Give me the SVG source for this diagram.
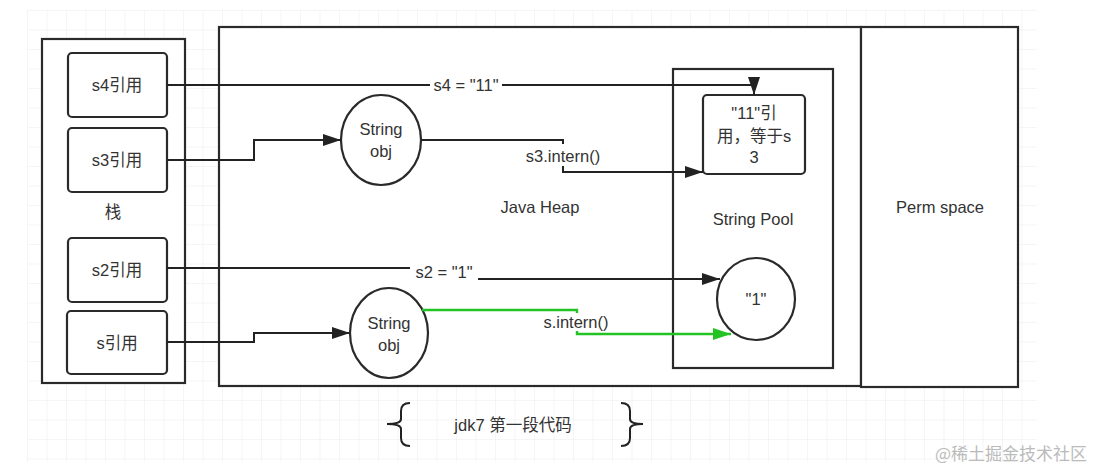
<svg xmlns="http://www.w3.org/2000/svg" width="1097" height="469" viewBox="0 0 1097 469">
<defs>
<pattern id="grid" x="27" y="10" width="19.5" height="19.5" patternUnits="userSpaceOnUse">
<path d="M19.5 0 L0 0 0 19.5" fill="none" stroke="#ececec" stroke-width="1"/>
</pattern>
<marker id="arr" markerWidth="18" markerHeight="12" refX="18" refY="6" orient="auto" markerUnits="userSpaceOnUse">
<path d="M0 0 L18 6 L0 12 Z" fill="#222"/>
</marker>
<marker id="arrg" markerWidth="18" markerHeight="12" refX="18" refY="6" orient="auto" markerUnits="userSpaceOnUse">
<path d="M0 0 L18 6 L0 12 Z" fill="#22c322"/>
</marker>
</defs>
<style>
.box{fill:#fff;stroke:#2a2a2a;stroke-width:2.2}
.node{fill:#fff;stroke:#2a2a2a;stroke-width:2.2}
.t{font-family:"Liberation Sans","Noto Sans CJK SC",sans-serif;font-size:16.5px;fill:#333;text-anchor:middle}
.ln{fill:none;stroke:#222;stroke-width:2}
.g{fill:none;stroke:#22c322;stroke-width:2.4}
.lbl{fill:#fff}
</style>
<rect x="0" y="0" width="1097" height="469" fill="#fff"/>
<rect x="27" y="10" width="1010" height="452" fill="url(#grid)"/>

<g id="stack">
<rect class="box" x="42" y="39" width="143" height="344"/>
<text class="t" x="113" y="218">栈</text>
</g>
<g id="heap">
<rect class="box" x="219" y="27" width="642" height="359"/>
<text class="t" x="540" y="213">Java Heap</text>
</g>
<g id="perm">
<rect class="box" x="861" y="27" width="157" height="360"/>
<text class="t" x="940" y="213">Perm space</text>
</g>
<g id="pool">
<rect class="box" x="673" y="69" width="160" height="299"/>
<text class="t" x="753" y="225">String Pool</text>
</g>

<g id="s4ref"><rect class="node" x="68" y="53" width="99" height="64" rx="4"/><text class="t" x="117" y="91">s4引用</text></g>
<g id="s3ref"><rect class="node" x="68" y="128" width="99" height="64" rx="4"/><text class="t" x="117" y="166">s3引用</text></g>
<g id="s2ref"><rect class="node" x="68" y="238" width="99" height="64" rx="4"/><text class="t" x="117" y="276">s2引用</text></g>
<g id="sref"><rect class="node" x="67" y="311" width="100" height="63" rx="4"/><text class="t" x="117" y="349">s引用</text></g>

<g id="strobj1"><ellipse class="node" cx="381" cy="140" rx="40" ry="45"/><text class="t" x="381" y="135">String</text><text class="t" x="381" y="157">obj</text></g>
<g id="strobj2"><ellipse class="node" cx="389" cy="333" rx="39" ry="45"/><text class="t" x="389" y="329">String</text><text class="t" x="389" y="351">obj</text></g>

<g id="ref11"><rect class="node" x="703" y="95" width="102" height="79" rx="4"/>
<text class="t" x="754" y="119">"11"引</text><text class="t" x="754" y="142">用，等于s</text><text class="t" x="754" y="163">3</text></g>
<g id="one"><ellipse class="node" cx="756" cy="299" rx="39" ry="41"/><text class="t" x="756" y="305">"1"</text></g>

<g id="connectors">
<path class="ln" d="M167 85 H754 V95" marker-end="url(#arr)"/>
<rect class="lbl" x="430" y="75" width="72" height="20"/>
<text class="t" x="466" y="91">s4 = "11"</text>

<path class="ln" d="M167 160 H254 V140 H341" marker-end="url(#arr)"/>

<path class="ln" d="M421 140 H563 V172 H703" marker-end="url(#arr)"/>
<rect class="lbl" x="524" y="144" width="80" height="22"/>
<text class="t" x="563" y="162">s3.intern()</text>

<path class="ln" d="M167 268 H444 V279 H720" marker-end="url(#arr)"/>
<rect class="lbl" x="410" y="260" width="68" height="22"/>
<text class="t" x="444" y="278">s2 = "1"</text>

<path class="ln" d="M167 342 H254 V333 H350" marker-end="url(#arr)"/>

<path class="g" d="M422 310 H577 V334 H731" marker-end="url(#arrg)"/>
<rect class="lbl" x="541" y="313" width="70" height="18"/>
<text class="t" x="576" y="328">s.intern()</text>
</g>

<g id="caption">
<path class="ln" d="M410 403 Q401 403 401 411 V419 Q401 424 387 424 Q401 424 401 429 V438 Q401 446 410 446"/>
<path class="ln" d="M621 403 Q630 403 630 411 V419 Q630 424 643 424 Q630 424 630 429 V438 Q630 446 621 446"/>
<text class="t" x="513" y="431">jdk7 第一段代码</text>
</g>
<text x="1011" y="460" font-family="'Noto Sans CJK SC',sans-serif" font-size="17" fill="#bbb" text-anchor="middle">@稀土掘金技术社区</text>
</svg>
